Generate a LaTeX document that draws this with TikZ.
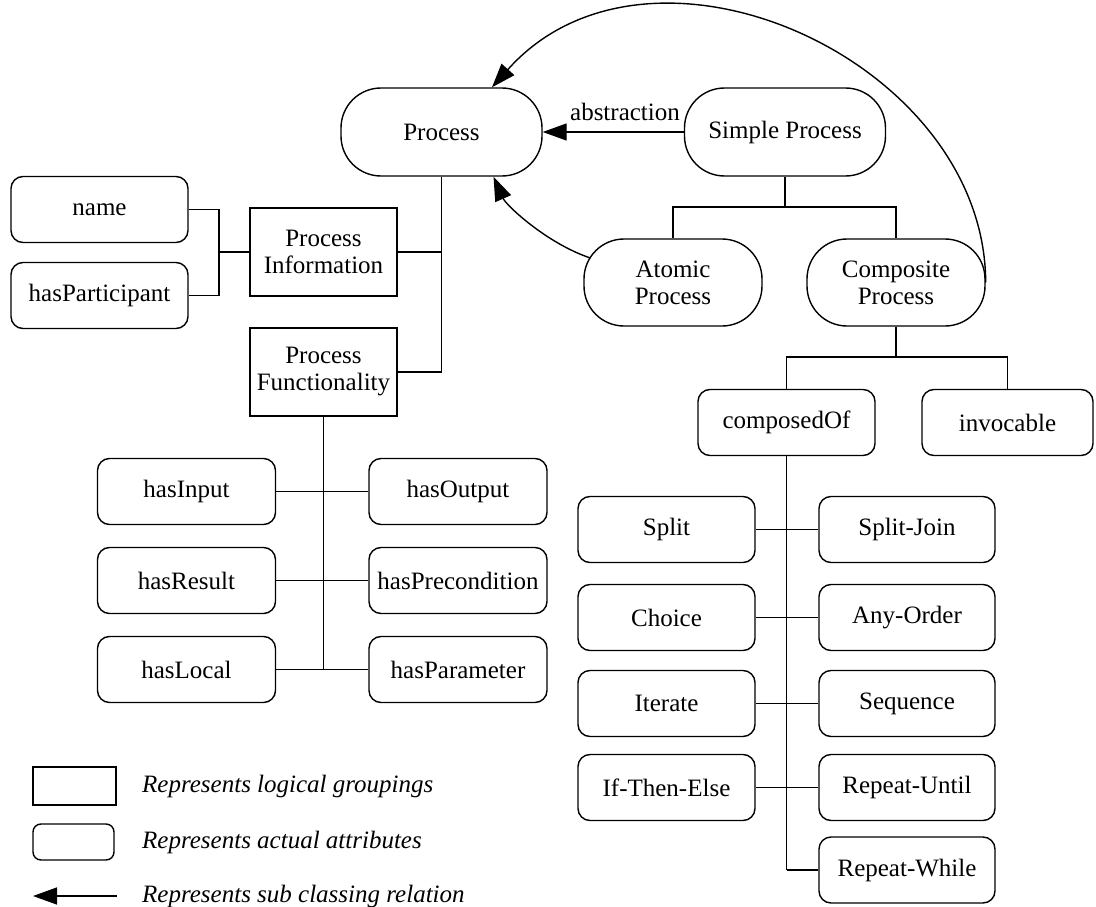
\documentclass[tikz,border=0pt]{standalone}
\usepackage{fontspec}
\setmainfont{Liberation Serif}
\usetikzlibrary{arrows.meta}
\begin{document}
\begin{tikzpicture}[x=1pt,y=-1pt,
  every node/.style={font=\fontsize{25}{27}\selectfont, inner sep=0pt, align=center},
  line/.style={line width=1.4pt},
  group/.style={draw, line width=1.4pt, minimum width=147pt, minimum height=88pt},
  attr/.style={draw, line width=1.4pt, rounded corners=12pt, minimum width=178pt, minimum height=66pt},
  cls/.style={draw, line width=1.4pt, rounded corners=40pt, minimum height=88pt},
  isa/.style={line width=1.4pt, -{Triangle[length=24pt,width=17pt]}},
  lab/.style={font=\fontsize{25}{27}\selectfont\itshape, anchor=west}
]
\useasboundingbox (0,0) rectangle (1096,907);

% class nodes
\node[cls, minimum width=201pt] (process) at (441.5,132) {Process};
\node[cls, minimum width=201pt] (simple) at (785,132) {Simple Process};
\node[cls, minimum width=178pt, minimum height=87pt] (atomic) at (673,282.5) {Atomic\\Process};
\node[cls, minimum width=178pt, minimum height=87pt] (composite) at (896,282.5) {Composite\\Process};
\node (abs) at (625,112) {abstraction};

% logical groupings
\node[group] (pinfo) at (323.5,252) {Process\\Information};
\node[group] (pfunc) at (323.5,372) {Process\\Functionality};

% information attributes
\node[attr, minimum width=177pt] (name) at (99.5,209.5) {name};
\node[attr, minimum width=177pt] (hpart) at (99.5,295.5) {hasParticipant};

% functionality attributes
\node[attr] (hin)  at (186.5,491.5) {hasInput};
\node[attr] (hout) at (458,491.5) {hasOutput};
\node[attr] (hres) at (186.5,580.5) {hasResult};
\node[attr] (hpre) at (458,580.5) {hasPrecondition};
\node[attr] (hloc) at (186.5,669.5) {hasLocal};
\node[attr] (hpar) at (458,669.5) {hasParameter};

% composite process attributes
\node[attr, minimum width=177pt] (composedof) at (786.5,422.5) {composedOf};
\node[attr, minimum width=171pt] (invocable) at (1007.5,422.5) {invocable};

% control constructs
\node[attr, minimum width=177pt] (split)   at (666.5,529.5) {Split};
\node[attr, minimum width=176pt] (splitj)  at (907,529.5) {Split-Join};
\node[attr, minimum width=177pt] (choice)  at (666.5,617.5) {Choice};
\node[attr, minimum width=176pt] (anyord)  at (907,617.5) {Any-Order};
\node[attr, minimum width=177pt] (iterate) at (666.5,703.5) {Iterate};
\node[attr, minimum width=176pt] (seq)     at (907,703.5) {Sequence};
\node[attr, minimum width=177pt] (ifte)    at (666.5,787.5) {If-Then-Else};
\node[attr, minimum width=176pt] (runtil)  at (907,787.5) {Repeat-Until};
\node[attr, minimum width=176pt] (rwhile)  at (907,870) {Repeat-While};

% sub classing arrows
\draw[isa] (simple.west) -- (process.east);
\draw[isa] ([xshift=7pt,yshift=24.5pt]atomic.west) .. controls (546,243) and (506,205) .. ([xshift=52pt]process.south);
\draw[isa] (composite.east) .. controls (985,60) and (650,-90) .. ([xshift=50.5pt]process.north);

% simple process tree
\coordinate (sj) at (785,207);
\draw[line] (simple.south) -- (sj);
\draw[line] (atomic.north) |- (sj) -| (composite.north);

% composite process tree
\coordinate (cj) at (896,357);
\draw[line] (composite.south) -- (cj);
\draw[line] (composedof.north) |- (cj) -| (invocable.north);

% process groupings
\draw[line] (process.south) -- (process.south |- pfunc.east);
\draw[line] (pinfo.east) -- (pinfo.east -| process.south);
\draw[line] (pfunc.east) -- (pfunc.east -| process.south);

\coordinate (nb) at (219,252);
\draw[line] (name.east) -| (nb) |- (hpart.east);
\draw[line] (pinfo.west) -- (nb);

\draw[line] (pfunc.south) -- (pfunc.south |- hloc.east);
\draw[line] (hin.east) -- (hout.west);
\draw[line] (hres.east) -- (hpre.west);
\draw[line] (hloc.east) -- (hpar.west);

% control construct bus
\draw[line] (composedof.south) -- (composedof.south |- rwhile.west);
\draw[line] (split.east) -- (splitj.west);
\draw[line] (choice.east) -- (anyord.west);
\draw[line] (iterate.east) -- (seq.west);
\draw[line] (ifte.east) -- (runtil.west);
\draw[line] (rwhile.west) -- (rwhile.west -| composedof.south);

% legend
\node[draw, line width=1.4pt, minimum width=83pt, minimum height=38pt] (lg1) at (74.5,786) {};
\node[draw, line width=1.4pt, rounded corners=8pt, minimum width=81pt, minimum height=36pt] (lg2) at (73.5,842) {};
\coordinate (la1) at (117,896);
\coordinate (la2) at (33,896);
\draw[isa] (la1) -- (la2);
\node[lab] (t1) at (142,786) {Represents logical groupings};
\node[lab] (t2) at (142,842) {Represents actual attributes};
\node[lab] (t3) at (142,896) {Represents sub classing relation};
\end{tikzpicture}
\end{document}
